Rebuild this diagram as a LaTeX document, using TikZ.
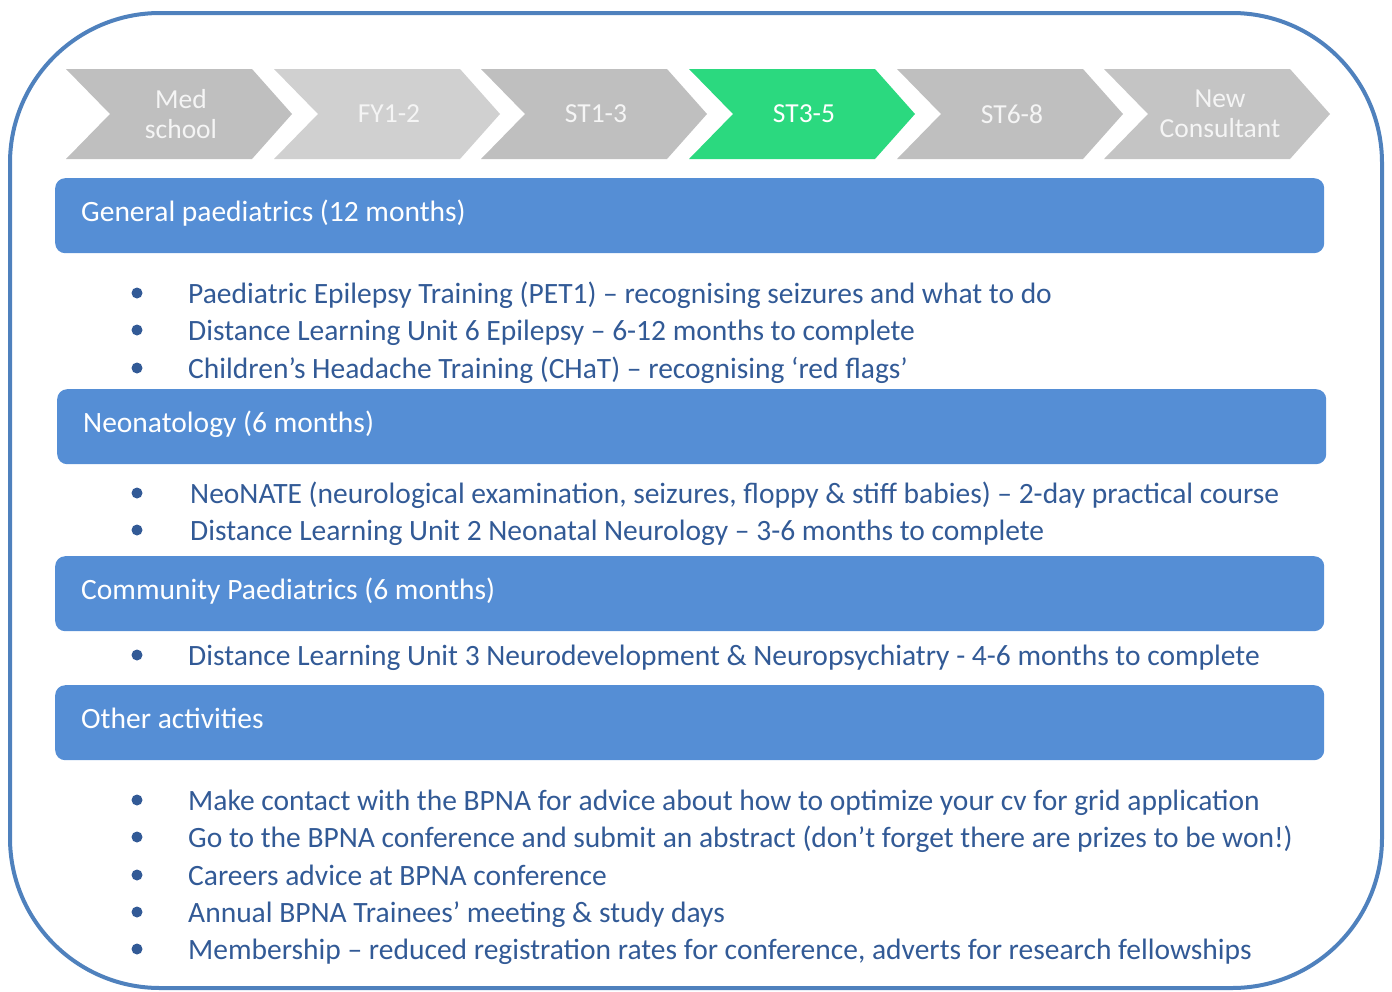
\documentclass[tikz,border=0pt]{standalone}
\usepackage{fontspec}
\setmainfont{Carlito}
\definecolor{framec}{RGB}{79,129,189}
\definecolor{barc}{RGB}{85,142,213}
\definecolor{txtc}{RGB}{50,90,150}
\definecolor{chevc}{RGB}{191,191,191}
\definecolor{chevlc}{RGB}{208,208,208}
\definecolor{chevgc}{RGB}{43,217,127}
\tikzset{
  chevtxt/.style={text=white!92!gray, font=\fontsize{27.5}{30}\selectfont, align=center, inner sep=0},
  barbox/.style={fill=barc, rounded corners=10, minimum width=1269, minimum height=75, anchor=north west, inner sep=0},
  bartxt/.style={text=white, font=\fontsize{29.5}{32}\selectfont, anchor=base west, inner sep=0},
  bul/.style={circle, fill=txtc, minimum size=11, inner sep=0},
  item/.style={text=txtc, font=\fontsize{29.5}{32}\selectfont, anchor=base west, inner sep=0}
}
\newcommand{\chev}[2]{%
  \fill[#2] (#1,69) -- ({#1+186},69) -- ({#1+226},114) -- ({#1+186},159) -- (#1,159) -- ({#1+44},114) -- cycle;
}
\begin{document}
\begin{tikzpicture}[x=1pt,y=-1pt]
\useasboundingbox (0,0) rectangle (1392,991);
\draw[framec, line width=4, rounded corners=150] (10,13) rectangle (1382,988);
% chevrons
\chev{66}{chevc}
\chev{274}{chevlc}
\chev{481}{chevc}
\chev{689}{chevgc}
\chev{897}{chevc}
\chev{1104}{chevc!92!white}
\node[chevtxt] (c1) at (181,114) {Med\\school};
\node[chevtxt] (c2) at (389,114) {FY1-2};
\node[chevtxt] (c3) at (596,114) {ST1-3};
\node[chevtxt, text=white] (c4) at (804,114) {ST3-5};
\node[chevtxt] (c5) at (1012,114) {ST6-8};
\node[chevtxt] (c6) at (1220,114) {New\\Consultant};
% bars
\node[barbox] (h1) at (55,178) {};
\node[bartxt] (h1t) at (81,221) {General paediatrics (12 months)};
\node[barbox] (h2) at (57,389) {};
\node[bartxt] (h2t) at (83,432) {Neonatology (6 months)};
\node[barbox] (h3) at (55,556) {};
\node[bartxt] (h3t) at (81,599) {Community Paediatrics (6 months)};
\node[barbox] (h4) at (55,685) {};
\node[bartxt] (h4t) at (81,728) {Other activities};
% items
\foreach \y/\t [count=\i] in {
  293/{Paediatric Epilepsy Training (PET1) – recognising seizures and what to do},
  330/{Distance Learning Unit 6 Epilepsy – 6-12 months to complete},
  368/{Children’s Headache Training (CHaT) – recognising ‘red flags’}}{
  \node[bul] (ba\i) at (137,\y) {};
  \node[item] (ta\i) at (188,\y+10) {\t};
}
\foreach \y/\t [count=\i] in {
  493/{NeoNATE (neurological examination, seizures, floppy \& stiff babies) – 2-day practical course},
  530/{Distance Learning Unit 2 Neonatal Neurology – 3-6 months to complete}}{
  \node[bul] (bb\i) at (137,\y) {};
  \node[item] (tb\i) at (190,\y+10) {\t};
}
\node[bul] (bc1) at (137,655) {};
\node[item] (tc1) at (188,665) {Distance Learning Unit 3 Neurodevelopment \& Neuropsychiatry - 4-6 months to complete};
\foreach \y/\t [count=\i] in {
  800/{Make contact with the BPNA for advice about how to optimize your cv for grid application},
  837/{Go to the BPNA conference and submit an abstract (don’t forget there are prizes to be won!)},
  875/{Careers advice at BPNA conference},
  912/{Annual BPNA Trainees’ meeting \& study days},
  949/{Membership – reduced registration rates for conference, adverts for research fellowships}}{
  \node[bul] (bd\i) at (137,\y) {};
  \node[item] (td\i) at (188,\y+10) {\t};
}
\end{tikzpicture}
\end{document}
